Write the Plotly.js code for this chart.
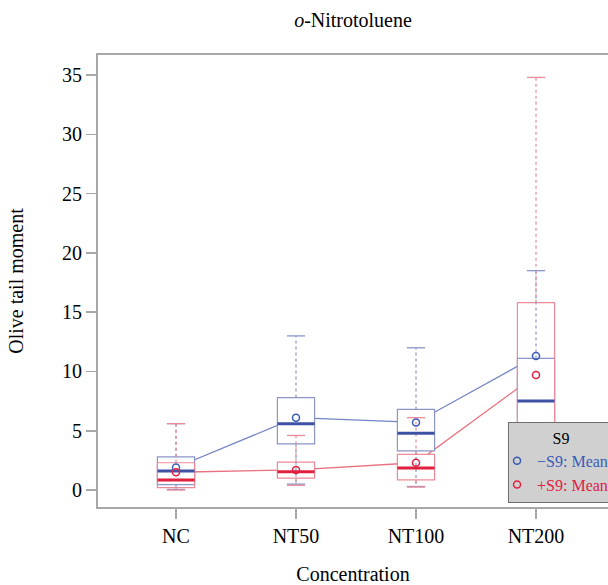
<!DOCTYPE html>
<html><head><meta charset="utf-8">
<script src="https://cdn.plot.ly/plotly-3.0.1.min.js"></script>
<style>html,body{margin:0;padding:0;background:#fff;}</style>
</head><body><div id="chart" style="width:608px;height:585px;"></div>
<script>
const categories = ['NC', 'NT50', 'NT100', 'NT200'];
// -S9 statistics
const minusLower  = [0.05, 0.5, 0.3, 0.3];
const minusQ1     = [0.45, 3.9, 3.3, 3.5];
const minusMedian = [1.6, 5.6, 4.8, 7.5];
const minusQ3     = [2.8, 7.8, 6.8, 11.1];
const minusUpper  = [5.6, 13.0, 12.0, 18.5];
const minusMean   = [1.9, 6.1, 5.7, 11.3];
// +S9 statistics
const plusLower  = [0.0, 0.4, 0.25, 0.0];
const plusQ1     = [0.2, 1.0, 0.85, 1.0];
const plusMedian = [0.85, 1.55, 1.85, 4.0];
const plusQ3     = [2.3, 2.35, 3.0, 15.8];
const plusUpper  = [5.6, 4.6, 6.1, 34.8];
const plusMean   = [1.5, 1.7, 2.3, 9.7];

const blue = '#3f51a3', blueLight = '#8b95c6', blueLine = '#7483c4';
const red = '#e0203f', redLight = '#ec8a9a', redLine = '#e8707f';
const FONT = '"Liberation Serif", "Times New Roman", serif';
const BOXW = 0.31;

function whiskers(lower, q1, q3, upper) {
  const x = [], y = [];
  categories.forEach((c, i) => {
    x.push(c, c, null, c, c, null);
    y.push(q3[i], upper[i], null, q1[i], lower[i], null);
  });
  return {x, y};
}
function boxTrace(q1, med, q3, lineColor, fill, lw) {
  return {
    type: 'box', xaxis: 'x2', yaxis: 'y2', x: categories,
    q1: q1, median: med, q3: q3, lowerfence: q1, upperfence: q3,
    width: BOXW, whiskerwidth: 0, fillcolor: fill,
    line: {color: lineColor, width: lw}, showlegend: false, hoverinfo: 'skip',
    boxpoints: false
  };
}
const wm = whiskers(minusLower, minusQ1, minusQ3, minusUpper);
const wp = whiskers(plusLower, plusQ1, plusQ3, plusUpper);

const data = [
  // connecting mean lines (below the boxes)
  {type: 'scatter', mode: 'lines', x: categories, y: minusMean, line: {color: blueLine, width: 1.3}, showlegend: false, hoverinfo: 'skip'},
  {type: 'scatter', mode: 'lines', x: categories, y: plusMean, line: {color: redLine, width: 1.3}, showlegend: false, hoverinfo: 'skip'},
  // white backgrounds of boxes
  boxTrace(minusQ1, minusMedian, minusQ3, 'rgba(0,0,0,0)', '#ffffff', 0),
  boxTrace(plusQ1, plusMedian, plusQ3, 'rgba(0,0,0,0)', '#ffffff', 0),
  // box outlines
  boxTrace(minusQ1, minusMedian, minusQ3, blueLight, 'rgba(0,0,0,0)', 1.2),
  boxTrace(plusQ1, plusMedian, plusQ3, redLight, 'rgba(0,0,0,0)', 1.2),
  // whiskers
  {type: 'scatter', mode: 'lines', xaxis: 'x2', yaxis: 'y2', x: wm.x, y: wm.y, connectgaps: false,
   line: {color: blueLight, width: 1.2, dash: 'dot'}, showlegend: false, hoverinfo: 'skip'},
  {type: 'scatter', mode: 'lines', xaxis: 'x2', yaxis: 'y2', x: wp.x, y: wp.y, connectgaps: false,
   line: {color: redLight, width: 1.2, dash: 'dot'}, showlegend: false, hoverinfo: 'skip'},
  // whisker caps
  {type: 'scatter', mode: 'markers', xaxis: 'x2', yaxis: 'y2', x: categories.concat(categories), y: minusUpper.concat(minusLower),
   marker: {symbol: 'line-ew', size: 13, line: {color: blueLight, width: 1.3}}, showlegend: false, hoverinfo: 'skip'},
  {type: 'scatter', mode: 'markers', xaxis: 'x2', yaxis: 'y2', x: categories.concat(categories), y: plusUpper.concat(plusLower),
   marker: {symbol: 'line-ew', size: 13, line: {color: redLight, width: 1.3}}, showlegend: false, hoverinfo: 'skip'},
  // medians
  {type: 'scatter', mode: 'markers', xaxis: 'x2', yaxis: 'y2', x: categories, y: minusMedian,
   marker: {symbol: 'line-ew', size: BOXW * 120 / 1.4, line: {color: blue, width: 3}}, showlegend: false, hoverinfo: 'skip'},
  {type: 'scatter', mode: 'markers', xaxis: 'x2', yaxis: 'y2', x: categories, y: plusMedian,
   marker: {symbol: 'line-ew', size: BOXW * 120 / 1.4, line: {color: red, width: 3}}, showlegend: false, hoverinfo: 'skip'},
  // means (legend entries)
  {type: 'scatter', mode: 'markers', xaxis: 'x2', yaxis: 'y2', x: categories, y: minusMean,
   name: '<span style="color:#3a5bb8">\u2212S9: Mean</span>',
   marker: {symbol: 'circle-open', size: 7, color: '#3a5bb8', line: {width: 1.5}}},
  {type: 'scatter', mode: 'markers', xaxis: 'x2', yaxis: 'y2', x: categories, y: plusMean,
   name: '<span style="color:#e0203f">+S9: Mean</span>',
   marker: {symbol: 'circle-open', size: 7, color: '#e0203f', line: {width: 1.5}}}
];

const xr = [-0.65, 3.6], yr = [-1.43, 36.69];
const axisLine = '#a8a8a8';
const layout = {
  width: 608, height: 585,
  margin: {l: 98, r: 0, t: 55, b: 78, autoexpand: false},
  paper_bgcolor: '#ffffff', plot_bgcolor: '#ffffff',
  font: {family: FONT, color: '#000', size: 20},
  title: {text: '<i>o</i>-Nitrotoluene', x: 0.5, xref: 'paper', xanchor: 'center', y: 0.966, yanchor: 'middle', font: {family: FONT, size: 20, color: '#000'}},
  boxmode: 'overlay',
  showlegend: true,
  xaxis: {type: 'category', categoryorder: 'array', categoryarray: categories, range: xr, fixedrange: true,
    showline: true, linecolor: axisLine, linewidth: 2, mirror: true,
    ticks: 'outside', ticklen: 10, tickwidth: 1.5, tickcolor: axisLine,
    showgrid: false, zeroline: false, tickfont: {family: FONT, size: 20, color: '#000'},
    title: {text: 'Concentration', font: {family: FONT, size: 20, color: '#000'}, standoff: 22}},
  yaxis: {range: yr, tick0: 0, dtick: 5, fixedrange: true,
    showline: true, linecolor: axisLine, linewidth: 2, mirror: true,
    ticks: 'outside', ticklen: 10, tickwidth: 1.5, tickcolor: axisLine,
    showgrid: false, zeroline: false, tickfont: {family: FONT, size: 20, color: '#000'},
    title: {text: 'Olive tail moment', font: {family: FONT, size: 20, color: '#000'}, standoff: 33}},
  xaxis2: {type: 'category', categoryorder: 'array', categoryarray: categories, overlaying: 'x', anchor: 'y2', range: xr, visible: false, fixedrange: true},
  yaxis2: {overlaying: 'y', anchor: 'x2', range: yr, visible: false, fixedrange: true},
  legend: {x: 0.804, xanchor: 'left', y: 0.188, yanchor: 'top', xref: 'paper', yref: 'paper',
    bgcolor: '#d0d0d0', bordercolor: '#6e6e6e', borderwidth: 1,
    font: {family: FONT, size: 16, color: '#000'},
    title: {text: 'S9', side: 'top center', font: {family: FONT, size: 16, color: '#000'}},
    indentation: -12, traceorder: 'normal'}
};
Plotly.newPlot('chart', data, layout, {displayModeBar: false, staticPlot: true});
</script></body></html>
